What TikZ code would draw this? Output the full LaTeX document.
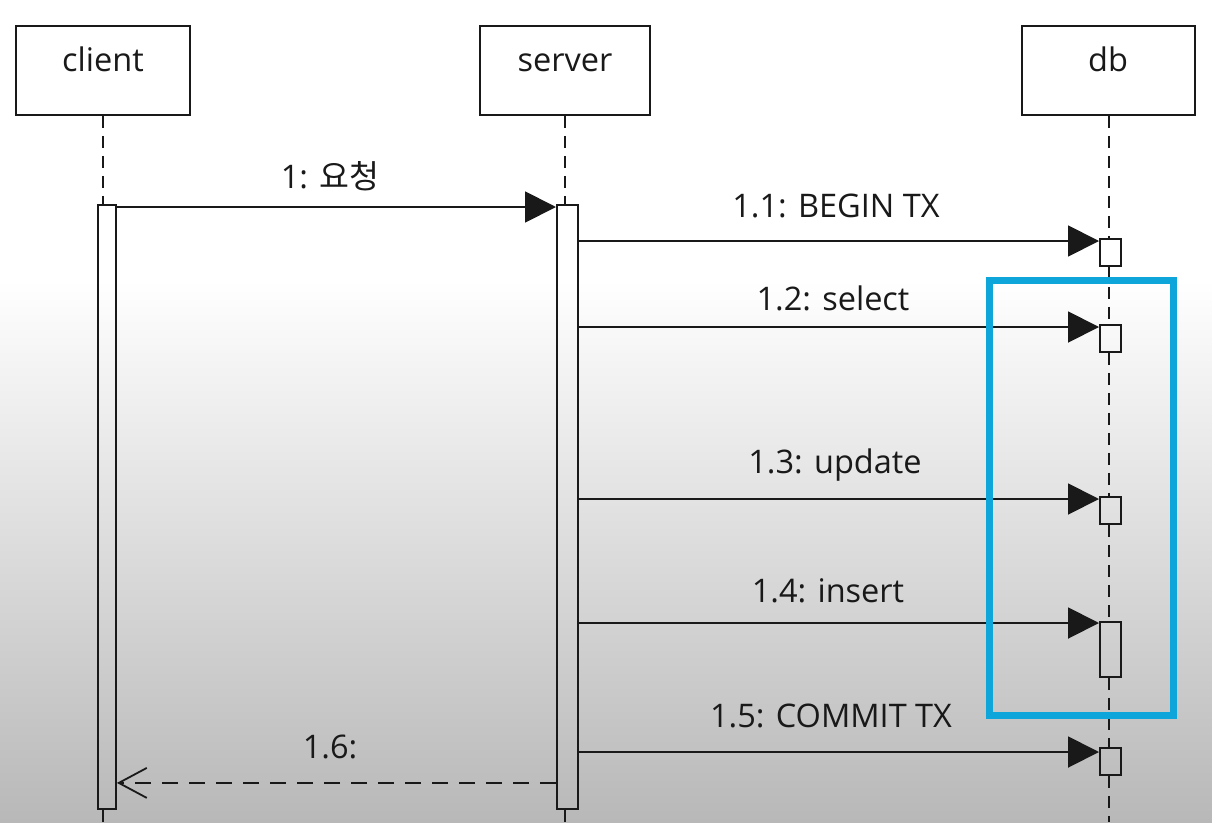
\documentclass[tikz,border=0pt]{standalone}
\usepackage{fontspec}
\setmainfont{Open Sans}
\newfontfamily\kr{Noto Sans CJK KR}
\usetikzlibrary{arrows.meta}
\definecolor{ink}{RGB}{25,25,25}
\definecolor{bggray}{RGB}{184,184,184}
\definecolor{hl}{RGB}{14,166,218}
\begin{document}
\begin{tikzpicture}[x=1pt,y=-1pt,
  txt/.style={font=\fontsize{32.5}{38}\selectfont, text=ink, inner sep=0pt, anchor=base},
  hdr/.style={draw=ink, line width=1.9pt, minimum height=89pt, inner sep=0pt, fill=white},
  act/.style={draw=ink, line width=1.9pt, inner sep=0pt, anchor=north west},
  life/.style={draw=ink, line width=2pt, dash pattern=on 12pt off 8pt},
  msg/.style={draw=ink, line width=1.9pt, -{Triangle[length=31pt,width=31pt]}},
  ret/.style={draw=ink, line width=1.8pt, dash pattern=on 16pt off 11pt, -{Straight Barb[length=28pt,width=30pt,line width=1.8pt]}},
  hlbox/.style={draw=hl, line width=7pt}]
\useasboundingbox (0,0) rectangle (1212,822);
\fill[white] (0,0) rectangle (1212,280);
\shade[top color=white, bottom color=bggray] (0,280) rectangle (1212,822);

% headers
\node[hdr, minimum width=174pt] (client) at (103,70.5) {};
\node[hdr, minimum width=170pt] (server) at (565,70.5) {};
\node[hdr, minimum width=173pt] (db) at (1108.5,70.5) {};
\node[txt] (clientl) at (103,71) {client};
\node[txt] (serverl) at (565,71) {server};
\node[txt] (dbl) at (1108,71) {db};

% activation bars
\node[act, minimum width=18pt, minimum height=604pt] (cbar) at (97,204) {};
\node[act, minimum width=21pt, minimum height=604pt] (sbar) at (556,204) {};
\node[act, minimum width=21pt, minimum height=27pt] (b1) at (1099,238) {};
\node[act, minimum width=21pt, minimum height=27pt] (b2) at (1099,324) {};
\node[act, minimum width=21pt, minimum height=27pt] (b3) at (1099,496) {};
\node[act, minimum width=21pt, minimum height=55pt] (b4) at (1099,621) {};
\node[act, minimum width=21pt, minimum height=27pt] (b5) at (1099,747) {};

% lifelines
\draw[life] (client.south) -- (client.south |- cbar.north);
\draw[life] (client.south |- cbar.south) -- (client.south |- 0,822);
\draw[life] (server.south) -- (server.south |- sbar.north);
\draw[life] (server.south |- sbar.south) -- (server.south |- 0,822);
\draw[life] (db.south) -- (db.south |- b1.north);
\foreach \a/\b in {b1/b2,b2/b3,b3/b4,b4/b5}
  \draw[life] (db.south |- \a.south) -- (db.south |- \b.north);
\draw[life] (db.south |- b5.south) -- (db.south |- 0,822);

% messages
\coordinate (m1) at ([yshift=-3pt]cbar.north east);
\draw[msg] (m1) -- (sbar.west |- m1);
\coordinate (m11) at ([yshift=-3pt]b1.north west);
\draw[msg] (sbar.east |- m11) -- (m11);
\coordinate (m12) at ([yshift=-3pt]b2.north west);
\draw[msg] (sbar.east |- m12) -- (m12);
\coordinate (m13) at ([yshift=-3pt]b3.north west);
\draw[msg] (sbar.east |- m13) -- (m13);
\coordinate (m14) at ([yshift=-2pt]b4.north west);
\draw[msg] (sbar.east |- m14) -- (m14);
\coordinate (m15) at ([yshift=-5pt]b5.north west);
\draw[msg] (sbar.east |- m15) -- (m15);
\coordinate (m16) at ([yshift=27pt]sbar.south west);
\draw[ret] (m16) -- (cbar.east |- m16);

% labels
\node[txt] (l1) at (330,188) {1: {\kr 요청}};
\node[txt] (l11) at (836,217) {1.1: BEGIN TX};
\node[txt] (l12) at (833,310) {1.2: select};
\node[txt] (l13) at (835,473) {1.3: update};
\node[txt] (l14) at (828,602) {1.4: insert};
\node[txt] (l15) at (831,727) {1.5: COMMIT TX};
\node[txt] (l16) at (330,758) {1.6:};

% highlight
\draw[hlbox] (989,280) rectangle (1173,715);
\end{tikzpicture}
\end{document}
